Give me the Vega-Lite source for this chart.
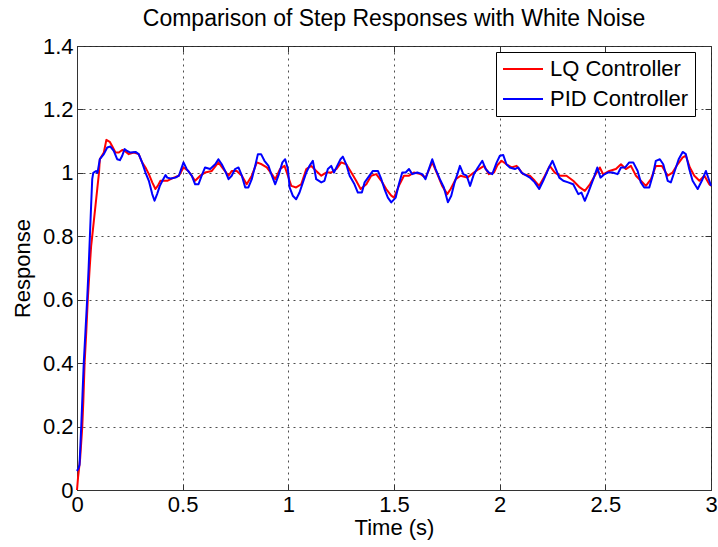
{
"$schema": "https://vega.github.io/schema/vega-lite/v6.json",
"width": 634, "height": 444,
"autosize": {"type": "none"},
"padding": {"left": 77, "top": 46, "right": 7, "bottom": 57},
"background": "white",
"config": {
  "font": "Liberation Sans",
  "view": {"stroke": "#333333", "strokeWidth": 1},
  "axis": {"domainColor": "#333333", "tickColor": "#333333", "labelColor": "#000000", "titleColor": "#000000", "labelFont": "Liberation Sans", "titleFont": "Liberation Sans", "labelFontSize": 22, "titleFontSize": 22, "titleFontWeight": "normal", "tickSize": -6, "labelFlush": false, "gridColor": "#222222", "gridDash": [2, 4], "gridOpacity": 0.8, "gridWidth": 1}
},
"title": {"text": "Comparison of Step Responses with White Noise", "fontSize": 23, "fontWeight": "normal", "color": "#000000", "font": "Liberation Sans", "offset": 4},
"data": {"values": [
{"t":0,"r":0,"s":"LQ Controller"},{"t":0.005,"r":0.04,"s":"LQ Controller"},{"t":0.01,"r":0.07,"s":"LQ Controller"},{"t":0.015,"r":0.1,"s":"LQ Controller"},{"t":0.02,"r":0.15,"s":"LQ Controller"},{"t":0.025,"r":0.2,"s":"LQ Controller"},{"t":0.03,"r":0.28,"s":"LQ Controller"},{"t":0.036,"r":0.4,"s":"LQ Controller"},{"t":0.044,"r":0.5,"s":"LQ Controller"},{"t":0.051,"r":0.6,"s":"LQ Controller"},{"t":0.06,"r":0.7,"s":"LQ Controller"},{"t":0.067,"r":0.77,"s":"LQ Controller"},{"t":0.072,"r":0.8,"s":"LQ Controller"},{"t":0.08,"r":0.85,"s":"LQ Controller"},{"t":0.088,"r":0.9,"s":"LQ Controller"},{"t":0.096,"r":0.95,"s":"LQ Controller"},{"t":0.104,"r":1.0,"s":"LQ Controller"},{"t":0.108,"r":1.043,"s":"LQ Controller"},{"t":0.127,"r":1.064,"s":"LQ Controller"},{"t":0.139,"r":1.104,"s":"LQ Controller"},{"t":0.155,"r":1.098,"s":"LQ Controller"},{"t":0.166,"r":1.085,"s":"LQ Controller"},{"t":0.182,"r":1.064,"s":"LQ Controller"},{"t":0.198,"r":1.064,"s":"LQ Controller"},{"t":0.214,"r":1.072,"s":"LQ Controller"},{"t":0.226,"r":1.069,"s":"LQ Controller"},{"t":0.245,"r":1.059,"s":"LQ Controller"},{"t":0.269,"r":1.064,"s":"LQ Controller"},{"t":0.292,"r":1.059,"s":"LQ Controller"},{"t":0.308,"r":1.033,"s":"LQ Controller"},{"t":0.324,"r":1.017,"s":"LQ Controller"},{"t":0.34,"r":0.996,"s":"LQ Controller"},{"t":0.356,"r":0.97,"s":"LQ Controller"},{"t":0.371,"r":0.949,"s":"LQ Controller"},{"t":0.382,"r":0.959,"s":"LQ Controller"},{"t":0.395,"r":0.975,"s":"LQ Controller"},{"t":0.41,"r":0.975,"s":"LQ Controller"},{"t":0.427,"r":0.975,"s":"LQ Controller"},{"t":0.443,"r":0.98,"s":"LQ Controller"},{"t":0.458,"r":0.985,"s":"LQ Controller"},{"t":0.482,"r":0.991,"s":"LQ Controller"},{"t":0.504,"r":1.017,"s":"LQ Controller"},{"t":0.527,"r":1.006,"s":"LQ Controller"},{"t":0.559,"r":0.975,"s":"LQ Controller"},{"t":0.583,"r":0.991,"s":"LQ Controller"},{"t":0.606,"r":1.001,"s":"LQ Controller"},{"t":0.638,"r":1.006,"s":"LQ Controller"},{"t":0.669,"r":1.033,"s":"LQ Controller"},{"t":0.693,"r":1.012,"s":"LQ Controller"},{"t":0.717,"r":0.991,"s":"LQ Controller"},{"t":0.732,"r":1.006,"s":"LQ Controller"},{"t":0.756,"r":1.006,"s":"LQ Controller"},{"t":0.78,"r":0.991,"s":"LQ Controller"},{"t":0.803,"r":0.964,"s":"LQ Controller"},{"t":0.827,"r":0.991,"s":"LQ Controller"},{"t":0.851,"r":1.033,"s":"LQ Controller"},{"t":0.874,"r":1.027,"s":"LQ Controller"},{"t":0.898,"r":1.017,"s":"LQ Controller"},{"t":0.922,"r":0.996,"s":"LQ Controller"},{"t":0.938,"r":0.98,"s":"LQ Controller"},{"t":0.961,"r":1.012,"s":"LQ Controller"},{"t":0.982,"r":1.022,"s":"LQ Controller"},{"t":0.998,"r":0.991,"s":"LQ Controller"},{"t":1.014,"r":0.959,"s":"LQ Controller"},{"t":1.037,"r":0.954,"s":"LQ Controller"},{"t":1.061,"r":0.964,"s":"LQ Controller"},{"t":1.085,"r":1.012,"s":"LQ Controller"},{"t":1.108,"r":1.022,"s":"LQ Controller"},{"t":1.132,"r":1.006,"s":"LQ Controller"},{"t":1.156,"r":0.991,"s":"LQ Controller"},{"t":1.179,"r":1.001,"s":"LQ Controller"},{"t":1.203,"r":1.001,"s":"LQ Controller"},{"t":1.227,"r":1.012,"s":"LQ Controller"},{"t":1.25,"r":1.033,"s":"LQ Controller"},{"t":1.274,"r":1.027,"s":"LQ Controller"},{"t":1.298,"r":1.001,"s":"LQ Controller"},{"t":1.321,"r":0.975,"s":"LQ Controller"},{"t":1.342,"r":0.949,"s":"LQ Controller"},{"t":1.369,"r":0.964,"s":"LQ Controller"},{"t":1.392,"r":0.991,"s":"LQ Controller"},{"t":1.416,"r":0.996,"s":"LQ Controller"},{"t":1.44,"r":0.975,"s":"LQ Controller"},{"t":1.463,"r":0.949,"s":"LQ Controller"},{"t":1.487,"r":0.928,"s":"LQ Controller"},{"t":1.5,"r":0.922,"s":"LQ Controller"},{"t":1.523,"r":0.959,"s":"LQ Controller"},{"t":1.547,"r":0.991,"s":"LQ Controller"},{"t":1.571,"r":0.991,"s":"LQ Controller"},{"t":1.594,"r":1.001,"s":"LQ Controller"},{"t":1.626,"r":0.996,"s":"LQ Controller"},{"t":1.649,"r":0.985,"s":"LQ Controller"},{"t":1.681,"r":1.033,"s":"LQ Controller"},{"t":1.705,"r":0.996,"s":"LQ Controller"},{"t":1.728,"r":0.959,"s":"LQ Controller"},{"t":1.752,"r":0.933,"s":"LQ Controller"},{"t":1.768,"r":0.949,"s":"LQ Controller"},{"t":1.792,"r":0.98,"s":"LQ Controller"},{"t":1.815,"r":0.991,"s":"LQ Controller"},{"t":1.847,"r":0.985,"s":"LQ Controller"},{"t":1.878,"r":1.001,"s":"LQ Controller"},{"t":1.902,"r":1.012,"s":"LQ Controller"},{"t":1.926,"r":1.022,"s":"LQ Controller"},{"t":1.949,"r":0.996,"s":"LQ Controller"},{"t":1.973,"r":1.001,"s":"LQ Controller"},{"t":1.99,"r":1.025,"s":"LQ Controller"},{"t":2.009,"r":1.038,"s":"LQ Controller"},{"t":2.032,"r":1.027,"s":"LQ Controller"},{"t":2.056,"r":1.017,"s":"LQ Controller"},{"t":2.08,"r":1.022,"s":"LQ Controller"},{"t":2.111,"r":0.996,"s":"LQ Controller"},{"t":2.143,"r":0.991,"s":"LQ Controller"},{"t":2.166,"r":0.975,"s":"LQ Controller"},{"t":2.187,"r":0.959,"s":"LQ Controller"},{"t":2.214,"r":0.991,"s":"LQ Controller"},{"t":2.237,"r":1.022,"s":"LQ Controller"},{"t":2.261,"r":1.001,"s":"LQ Controller"},{"t":2.285,"r":0.991,"s":"LQ Controller"},{"t":2.316,"r":0.991,"s":"LQ Controller"},{"t":2.348,"r":0.975,"s":"LQ Controller"},{"t":2.379,"r":0.954,"s":"LQ Controller"},{"t":2.403,"r":0.943,"s":"LQ Controller"},{"t":2.427,"r":0.964,"s":"LQ Controller"},{"t":2.45,"r":0.991,"s":"LQ Controller"},{"t":2.474,"r":1.017,"s":"LQ Controller"},{"t":2.49,"r":0.995,"s":"LQ Controller"},{"t":2.519,"r":1.006,"s":"LQ Controller"},{"t":2.55,"r":1.012,"s":"LQ Controller"},{"t":2.574,"r":1.027,"s":"LQ Controller"},{"t":2.597,"r":1.012,"s":"LQ Controller"},{"t":2.621,"r":1.022,"s":"LQ Controller"},{"t":2.645,"r":0.991,"s":"LQ Controller"},{"t":2.668,"r":0.975,"s":"LQ Controller"},{"t":2.692,"r":0.959,"s":"LQ Controller"},{"t":2.716,"r":0.98,"s":"LQ Controller"},{"t":2.739,"r":1.022,"s":"LQ Controller"},{"t":2.768,"r":1.022,"s":"LQ Controller"},{"t":2.795,"r":0.991,"s":"LQ Controller"},{"t":2.818,"r":1.001,"s":"LQ Controller"},{"t":2.842,"r":1.027,"s":"LQ Controller"},{"t":2.866,"r":1.049,"s":"LQ Controller"},{"t":2.881,"r":1.054,"s":"LQ Controller"},{"t":2.9,"r":1.017,"s":"LQ Controller"},{"t":2.921,"r":0.991,"s":"LQ Controller"},{"t":2.945,"r":0.975,"s":"LQ Controller"},{"t":2.969,"r":0.991,"s":"LQ Controller"},{"t":2.992,"r":0.964,"s":"LQ Controller"},{"t":3.0,"r":0.959,"s":"LQ Controller"},
{"t":0,"r":0.06,"s":"PID Controller"},{"t":0.008,"r":0.07,"s":"PID Controller"},{"t":0.012,"r":0.08,"s":"PID Controller"},{"t":0.016,"r":0.14,"s":"PID Controller"},{"t":0.02,"r":0.2,"s":"PID Controller"},{"t":0.026,"r":0.3,"s":"PID Controller"},{"t":0.032,"r":0.4,"s":"PID Controller"},{"t":0.04,"r":0.5,"s":"PID Controller"},{"t":0.048,"r":0.6,"s":"PID Controller"},{"t":0.055,"r":0.7,"s":"PID Controller"},{"t":0.061,"r":0.8,"s":"PID Controller"},{"t":0.067,"r":0.9,"s":"PID Controller"},{"t":0.072,"r":0.98,"s":"PID Controller"},{"t":0.077,"r":1.0,"s":"PID Controller"},{"t":0.09,"r":1.006,"s":"PID Controller"},{"t":0.097,"r":1.0,"s":"PID Controller"},{"t":0.108,"r":1.043,"s":"PID Controller"},{"t":0.127,"r":1.059,"s":"PID Controller"},{"t":0.143,"r":1.08,"s":"PID Controller"},{"t":0.158,"r":1.083,"s":"PID Controller"},{"t":0.174,"r":1.069,"s":"PID Controller"},{"t":0.19,"r":1.043,"s":"PID Controller"},{"t":0.203,"r":1.04,"s":"PID Controller"},{"t":0.214,"r":1.054,"s":"PID Controller"},{"t":0.225,"r":1.075,"s":"PID Controller"},{"t":0.237,"r":1.069,"s":"PID Controller"},{"t":0.253,"r":1.064,"s":"PID Controller"},{"t":0.277,"r":1.066,"s":"PID Controller"},{"t":0.292,"r":1.059,"s":"PID Controller"},{"t":0.308,"r":1.033,"s":"PID Controller"},{"t":0.324,"r":1.001,"s":"PID Controller"},{"t":0.34,"r":0.975,"s":"PID Controller"},{"t":0.356,"r":0.933,"s":"PID Controller"},{"t":0.367,"r":0.912,"s":"PID Controller"},{"t":0.379,"r":0.933,"s":"PID Controller"},{"t":0.392,"r":0.959,"s":"PID Controller"},{"t":0.408,"r":0.98,"s":"PID Controller"},{"t":0.419,"r":0.993,"s":"PID Controller"},{"t":0.427,"r":0.985,"s":"PID Controller"},{"t":0.443,"r":0.982,"s":"PID Controller"},{"t":0.466,"r":0.985,"s":"PID Controller"},{"t":0.482,"r":0.991,"s":"PID Controller"},{"t":0.504,"r":1.033,"s":"PID Controller"},{"t":0.519,"r":1.012,"s":"PID Controller"},{"t":0.543,"r":0.991,"s":"PID Controller"},{"t":0.559,"r":0.964,"s":"PID Controller"},{"t":0.575,"r":0.964,"s":"PID Controller"},{"t":0.59,"r":0.991,"s":"PID Controller"},{"t":0.606,"r":1.017,"s":"PID Controller"},{"t":0.63,"r":1.012,"s":"PID Controller"},{"t":0.654,"r":1.027,"s":"PID Controller"},{"t":0.669,"r":1.043,"s":"PID Controller"},{"t":0.685,"r":1.027,"s":"PID Controller"},{"t":0.701,"r":1.006,"s":"PID Controller"},{"t":0.717,"r":0.98,"s":"PID Controller"},{"t":0.732,"r":0.991,"s":"PID Controller"},{"t":0.748,"r":1.012,"s":"PID Controller"},{"t":0.764,"r":1.017,"s":"PID Controller"},{"t":0.78,"r":0.991,"s":"PID Controller"},{"t":0.796,"r":0.954,"s":"PID Controller"},{"t":0.811,"r":0.954,"s":"PID Controller"},{"t":0.827,"r":0.98,"s":"PID Controller"},{"t":0.843,"r":1.022,"s":"PID Controller"},{"t":0.856,"r":1.059,"s":"PID Controller"},{"t":0.871,"r":1.059,"s":"PID Controller"},{"t":0.887,"r":1.038,"s":"PID Controller"},{"t":0.906,"r":1.022,"s":"PID Controller"},{"t":0.922,"r":0.991,"s":"PID Controller"},{"t":0.938,"r":0.964,"s":"PID Controller"},{"t":0.953,"r":0.991,"s":"PID Controller"},{"t":0.972,"r":1.033,"s":"PID Controller"},{"t":0.985,"r":1.043,"s":"PID Controller"},{"t":0.998,"r":1.012,"s":"PID Controller"},{"t":1.006,"r":0.954,"s":"PID Controller"},{"t":1.021,"r":0.928,"s":"PID Controller"},{"t":1.037,"r":0.917,"s":"PID Controller"},{"t":1.053,"r":0.938,"s":"PID Controller"},{"t":1.069,"r":0.97,"s":"PID Controller"},{"t":1.085,"r":1.001,"s":"PID Controller"},{"t":1.1,"r":1.022,"s":"PID Controller"},{"t":1.116,"r":1.038,"s":"PID Controller"},{"t":1.132,"r":0.98,"s":"PID Controller"},{"t":1.156,"r":0.97,"s":"PID Controller"},{"t":1.171,"r":0.975,"s":"PID Controller"},{"t":1.187,"r":1.012,"s":"PID Controller"},{"t":1.203,"r":1.022,"s":"PID Controller"},{"t":1.216,"r":1.001,"s":"PID Controller"},{"t":1.231,"r":1.022,"s":"PID Controller"},{"t":1.247,"r":1.043,"s":"PID Controller"},{"t":1.258,"r":1.051,"s":"PID Controller"},{"t":1.274,"r":1.027,"s":"PID Controller"},{"t":1.29,"r":0.991,"s":"PID Controller"},{"t":1.313,"r":0.964,"s":"PID Controller"},{"t":1.329,"r":0.938,"s":"PID Controller"},{"t":1.348,"r":0.938,"s":"PID Controller"},{"t":1.361,"r":0.97,"s":"PID Controller"},{"t":1.384,"r":0.991,"s":"PID Controller"},{"t":1.4,"r":1.006,"s":"PID Controller"},{"t":1.424,"r":1.006,"s":"PID Controller"},{"t":1.44,"r":0.98,"s":"PID Controller"},{"t":1.455,"r":0.949,"s":"PID Controller"},{"t":1.471,"r":0.922,"s":"PID Controller"},{"t":1.487,"r":0.907,"s":"PID Controller"},{"t":1.508,"r":0.922,"s":"PID Controller"},{"t":1.523,"r":0.964,"s":"PID Controller"},{"t":1.539,"r":1.001,"s":"PID Controller"},{"t":1.555,"r":1.001,"s":"PID Controller"},{"t":1.571,"r":1.012,"s":"PID Controller"},{"t":1.586,"r":0.996,"s":"PID Controller"},{"t":1.61,"r":1.001,"s":"PID Controller"},{"t":1.634,"r":0.996,"s":"PID Controller"},{"t":1.649,"r":0.98,"s":"PID Controller"},{"t":1.665,"r":1.012,"s":"PID Controller"},{"t":1.681,"r":1.043,"s":"PID Controller"},{"t":1.697,"r":1.012,"s":"PID Controller"},{"t":1.717,"r":0.98,"s":"PID Controller"},{"t":1.736,"r":0.954,"s":"PID Controller"},{"t":1.755,"r":0.907,"s":"PID Controller"},{"t":1.771,"r":0.928,"s":"PID Controller"},{"t":1.787,"r":0.97,"s":"PID Controller"},{"t":1.8,"r":0.996,"s":"PID Controller"},{"t":1.812,"r":1.022,"s":"PID Controller"},{"t":1.828,"r":0.996,"s":"PID Controller"},{"t":1.844,"r":0.991,"s":"PID Controller"},{"t":1.86,"r":0.959,"s":"PID Controller"},{"t":1.878,"r":0.996,"s":"PID Controller"},{"t":1.897,"r":1.017,"s":"PID Controller"},{"t":1.918,"r":1.038,"s":"PID Controller"},{"t":1.934,"r":1.012,"s":"PID Controller"},{"t":1.949,"r":1.001,"s":"PID Controller"},{"t":1.965,"r":0.996,"s":"PID Controller"},{"t":1.986,"r":1.033,"s":"PID Controller"},{"t":2.001,"r":1.054,"s":"PID Controller"},{"t":2.017,"r":1.056,"s":"PID Controller"},{"t":2.032,"r":1.027,"s":"PID Controller"},{"t":2.048,"r":1.017,"s":"PID Controller"},{"t":2.072,"r":1.012,"s":"PID Controller"},{"t":2.088,"r":1.017,"s":"PID Controller"},{"t":2.103,"r":1.001,"s":"PID Controller"},{"t":2.127,"r":0.991,"s":"PID Controller"},{"t":2.143,"r":0.985,"s":"PID Controller"},{"t":2.166,"r":0.97,"s":"PID Controller"},{"t":2.187,"r":0.949,"s":"PID Controller"},{"t":2.206,"r":0.975,"s":"PID Controller"},{"t":2.23,"r":1.012,"s":"PID Controller"},{"t":2.25,"r":1.038,"s":"PID Controller"},{"t":2.266,"r":1.012,"s":"PID Controller"},{"t":2.282,"r":0.985,"s":"PID Controller"},{"t":2.301,"r":0.975,"s":"PID Controller"},{"t":2.324,"r":0.97,"s":"PID Controller"},{"t":2.348,"r":0.964,"s":"PID Controller"},{"t":2.372,"r":0.933,"s":"PID Controller"},{"t":2.387,"r":0.938,"s":"PID Controller"},{"t":2.403,"r":0.912,"s":"PID Controller"},{"t":2.419,"r":0.938,"s":"PID Controller"},{"t":2.443,"r":0.98,"s":"PID Controller"},{"t":2.462,"r":1.017,"s":"PID Controller"},{"t":2.477,"r":0.985,"s":"PID Controller"},{"t":2.493,"r":0.994,"s":"PID Controller"},{"t":2.511,"r":1.001,"s":"PID Controller"},{"t":2.534,"r":1.001,"s":"PID Controller"},{"t":2.558,"r":0.996,"s":"PID Controller"},{"t":2.574,"r":1.017,"s":"PID Controller"},{"t":2.594,"r":1.017,"s":"PID Controller"},{"t":2.613,"r":1.033,"s":"PID Controller"},{"t":2.632,"r":1.033,"s":"PID Controller"},{"t":2.653,"r":1.006,"s":"PID Controller"},{"t":2.668,"r":0.97,"s":"PID Controller"},{"t":2.684,"r":0.954,"s":"PID Controller"},{"t":2.708,"r":0.954,"s":"PID Controller"},{"t":2.724,"r":0.991,"s":"PID Controller"},{"t":2.739,"r":1.038,"s":"PID Controller"},{"t":2.758,"r":1.043,"s":"PID Controller"},{"t":2.774,"r":1.027,"s":"PID Controller"},{"t":2.795,"r":0.975,"s":"PID Controller"},{"t":2.81,"r":0.97,"s":"PID Controller"},{"t":2.826,"r":1.001,"s":"PID Controller"},{"t":2.847,"r":1.043,"s":"PID Controller"},{"t":2.866,"r":1.066,"s":"PID Controller"},{"t":2.881,"r":1.059,"s":"PID Controller"},{"t":2.897,"r":1.012,"s":"PID Controller"},{"t":2.913,"r":0.975,"s":"PID Controller"},{"t":2.937,"r":0.949,"s":"PID Controller"},{"t":2.96,"r":0.98,"s":"PID Controller"},{"t":2.976,"r":1.006,"s":"PID Controller"},{"t":2.992,"r":0.975,"s":"PID Controller"},{"t":3.0,"r":0.959,"s":"PID Controller"}
]},
"layer": [
  {
    "mark": {"type": "line", "strokeWidth": 2, "strokeJoin": "round"},
    "encoding": {
      "x": {"field": "t", "type": "quantitative", "scale": {"domain": [0, 3], "nice": false, "zero": false},
            "axis": {"values": [0, 0.5, 1, 1.5, 2, 2.5, 3], "format": "~g", "title": "Time (s)", "labelPadding": 10, "titlePadding": 2, "grid": true}},
      "y": {"field": "r", "type": "quantitative", "scale": {"domain": [0, 1.4], "nice": false, "zero": false},
            "axis": {"values": [0, 0.2, 0.4, 0.6, 0.8, 1, 1.2, 1.4], "format": "~g", "title": "Response", "labelPadding": 10, "titlePadding": 8, "grid": true}},
      "color": {"field": "s", "type": "nominal",
                "scale": {"domain": ["LQ Controller", "PID Controller"], "range": ["#ff0000", "#0000ff"]},
                "legend": {"title": null, "orient": "none", "legendX": 419, "legendY": 6, "symbolType": "M-1,0L3,0", "symbolSize": 400, "symbolStrokeWidth": 2, "labelFontSize": 22, "labelColor": "#000000", "labelFont": "Liberation Sans", "labelOffset": 26, "strokeColor": "#000000", "fillColor": "#ffffff", "padding": 6, "rowPadding": 8, "labelLimit": 300}}
    }
  },
  {
    "mark": {"type": "line", "opacity": 0},
    "encoding": {
      "x": {"field": "t", "type": "quantitative", "axis": {"orient": "top", "values": [0, 0.5, 1, 1.5, 2, 2.5, 3], "labels": false, "title": null, "grid": false, "domain": false}},
      "y": {"field": "r", "type": "quantitative", "axis": {"orient": "right", "values": [0, 0.2, 0.4, 0.6, 0.8, 1, 1.2, 1.4], "labels": false, "title": null, "grid": false, "domain": false}}
    }
  }
],
"resolve": {"axis": {"x": "independent", "y": "independent"}}
}
